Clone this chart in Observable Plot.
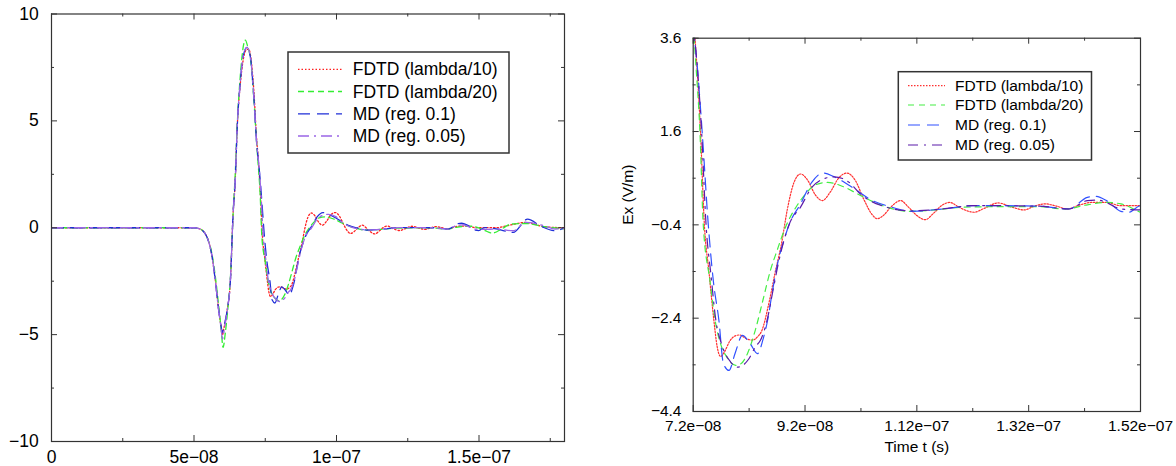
<!DOCTYPE html>
<html><head><meta charset="utf-8">
<script src="https://cdn.jsdelivr.net/npm/d3@7"></script>
<script src="https://cdn.jsdelivr.net/npm/@observablehq/plot@0.6"></script>
<style>
html,body{margin:0;padding:0;background:#fff;}
#wrap{position:relative;width:1176px;height:466px;overflow:hidden;background:#fff;}
#left{position:absolute;left:0;top:0;}
#right{position:absolute;left:590px;top:0;}
</style></head><body><div id="wrap"><div id="left"></div><div id="right"></div></div>
<script>
// ---- data (time in units of 1e-8 s, field in V/m) ----
const seriesNames = ["FDTD (lambda/10)", "FDTD (lambda/20)", "MD (reg. 0.1)", "MD (reg. 0.05)"];

const fdtd10T = [0,5.0,5.2,5.35,5.46, 5.64,5.75,5.87,5.95,6.0, 6.05,6.16,6.28,6.37,6.45, 6.51,6.63,6.72,6.82,6.92, 7.0,7.1,7.2,7.25,7.33, 7.40,7.48,7.57,7.63,7.69, 7.76,7.85,7.95,8.03,8.15, 8.26,8.35,8.43,8.55,8.66, 8.78,8.88,9.0,9.12,9.25, 9.38,9.51,9.65,9.8,9.95, 10.1,10.25,10.4,10.49,10.6, 10.75,10.91,11.05,11.2,11.35, 11.5,11.65,11.79,11.95,12.1, 12.22,12.4,12.65,12.9,13.12, 13.3,13.49,13.7,13.89,14.1, 14.32,14.59,14.85,15.2,15.6, 16.0,16.64,17.29,18.0];
const fdtd10V = [0,0,-0.05,-0.2,-0.45, -1.39,-2.48,-3.88,-4.6,-5.0, -4.7,-3.9,-2.4,0.6,2.3, 4.5,6.8,7.8,8.3,8.36, 7.9,6.4,4.1,3.3,1.6, -0.4,-1.38,-2.45,-3.02,-3.22, -3.12,-2.9,-2.78,-2.76,-2.84, -2.87,-2.8,-2.66,-2.1,-1.45, -0.8,-0.09,0.5,0.69,0.55, 0.25,0.12,0.3,0.6,0.71, 0.55,0.15,-0.18,-0.27,-0.2, 0.0,0.12,-0.02,-0.2,-0.29, -0.15,0.02,0.08,-0.02,-0.1, -0.13,-0.05,0.07,-0.02,-0.08, 0.0,0.05,0.0,-0.06,0.02, 0.08,0.08,0.01,0.01,0.0, 0.1,0.25,0.05,0.0];

const fdtd20T = [0,5.0,5.2,5.35,5.46, 5.64,5.75,5.87,5.95,6.02, 6.1,6.2,6.3,6.37,6.45, 6.51,6.63,6.72,6.8,6.88, 7.0,7.1,7.2,7.25,7.32, 7.38,7.5,7.6,7.69,7.81, 7.96,8.05,8.17,8.31,8.45, 8.58,8.7,8.85,9.06,9.2, 9.39,9.6,9.92,10.19,10.59, 11.05,11.52,12.05,12.72,13.39, 13.85,14.25,14.59,14.85,15.2, 15.47,15.8,16.12,16.64,17.29, 18.0];
const fdtd20V = [0,0,-0.05,-0.2,-0.45, -1.3,-2.3,-3.7,-4.7,-5.6, -4.9,-3.6,-1.8,0.6,2.6, 4.6,7.2,8.4,8.78,8.5, 7.7,6.0,3.9,3.0,1.6, -0.4,-1.6,-2.5,-2.95,-3.25, -3.41,-3.38,-3.16,-2.66,-2.0, -1.38,-0.95,-0.45,0.02,0.25, 0.46,0.51,0.40,0.23,0.01, -0.11,-0.08,-0.02,-0.01,-0.01, -0.06,0.03,0.08,0.05,-0.13, -0.25,-0.05,0.17,0.2,0.05, -0.05];

const md01T = [0,5.0,5.2,5.35,5.46, 5.64,5.75,5.87,5.95,5.99, 6.05,6.16,6.28,6.37,6.45, 6.51,6.63,6.72,6.86,6.98, 7.1,7.2,7.28,7.36,7.47, 7.56,7.66,7.74,7.84,7.95, 8.08,8.22,8.35,8.45,8.53, 8.62,8.72,8.82,8.92,9.12, 9.32,9.52,9.72,10.05,10.39, 10.72,11.12,11.65,12.19,12.72, 13.39,13.92,14.25,14.39,14.59, 14.85,14.99,15.2,15.6,16.2, 16.7,17.2,17.67,18.0];
const md01V = [0,0,-0.05,-0.2,-0.45, -1.4,-2.5,-3.9,-4.6,-4.9, -4.6,-3.9,-2.4,0.6,2.3, 4.5,6.9,8.0,8.44,7.97, 6.1,3.95,2.9,1.6,-0.4, -1.6,-2.45,-3.37,-3.52,-3.15, -2.77,-2.95,-3.16,-2.85,-2.45, -1.8,-1.17,-0.74,-0.38,0.05, 0.51,0.71,0.63,0.40,0.13, -0.01,-0.11,-0.06,0.01,0.01, 0.0,-0.06,0.19,0.21,0.12, -0.11,-0.13,0.01,-0.05,-0.22, 0.4,0.05,-0.14,0.0];

const md005T = [0,5.0,5.2,5.35,5.46, 5.64,5.75,5.87,5.95,6.0, 6.06,6.16,6.28,6.37,6.45, 6.51,6.63,6.72,6.86,6.98, 7.1,7.2,7.28,7.35,7.43, 7.52,7.6,7.72,7.87,7.99, 8.1,8.19,8.32,8.4,8.52, 8.62,8.72,8.92,9.12,9.32, 9.52,9.72,9.99,10.19,10.55, 11.1,11.65,12.2,12.72,13.39, 13.92,14.25,14.45,14.59,14.85, 15.2,15.6,16.2,16.64,17.29, 17.67,18.0];
const md005V = [0,0,-0.05,-0.2,-0.45, -1.4,-2.5,-3.9,-4.7,-5.2, -4.8,-3.9,-2.4,0.6,2.3, 4.5,6.9,8.0,8.44,7.97, 6.1,3.95,2.9,1.6,-0.4, -1.5,-2.4,-3.0,-3.34,-3.45, -3.4,-3.28,-3.0,-2.88,-2.45, -1.85,-1.24,-0.38,-0.02,0.4, 0.58,0.63,0.51,0.26,0.02, -0.1,-0.06,0.01,0.01,0.0, -0.06,0.12,0.13,0.08,-0.06, -0.08,-0.06,-0.14,0.25,0.09, -0.06,-0.03];

// ticks
const leftXMajor = [0, 5, 10, 15];
const leftXLabels = ["0", "5e\u221208", "1e\u221207", "1.5e\u221207"];
const leftXMinor = [2.5, 7.5, 12.5, 17.5];
const leftYMajor = [-10, -5, 0, 5, 10];
const leftYLabels = ["\u221210", "\u22125", "0", "5", "10"];
const leftYMinor = [-7.5, -2.5, 2.5, 7.5];

const rightXMajor = [7.2, 9.2, 11.2, 13.2, 15.2];
const rightXLabels = ["7.2e\u221208", "9.2e\u221208", "1.12e\u221207", "1.32e\u221207", "1.52e\u221207"];
const rightXMinor = [8.2, 10.2, 12.2, 14.2];
const rightYMajor = [-4.4, -2.4, -0.4, 1.6, 3.6];
const rightYLabels = ["\u22124.4", "\u22122.4", "\u22120.4", "1.6", "3.6"];
const rightYMinor = [-3.4, -1.4, 0.6, 2.6];

const xTitle = "Time t (s)";
const yTitle = "Ex (V/m)";

// ---- build table ----
const seriesT = [fdtd10T, fdtd20T, md01T, md005T];
const seriesV = [fdtd10V, fdtd20V, md01V, md005V];
const rows = [];
seriesT.forEach((T, k) => T.forEach((t, i) => rows.push({k, name: seriesNames[k], t, v: seriesV[k][i]})));

const FONT = "'Liberation Sans', Arial, Helvetica, sans-serif";

function panel(o) {
  const innerW = o.width - o.ml - o.mr, innerH = o.height - o.mt - o.mb;
  const marks = [];
  o.styles.forEach((s, k) => {
    marks.push(Plot.line(rows.filter(r => r.k === k), {
      x: "t", y: "v", stroke: s.color, strokeWidth: s.w, strokeDasharray: s.dash,
      curve: "monotone-x", clip: true
    }));
  });
  const tc = "#333";
  const M = 6, m = 3;
  marks.push(Plot.tickX(o.xMajor, {x: d => d, insetTop: innerH - M, stroke: tc}));
  marks.push(Plot.tickX(o.xMajor, {x: d => d, insetBottom: innerH - M, stroke: tc}));
  marks.push(Plot.tickX(o.xMinor, {x: d => d, insetTop: innerH - m, stroke: tc}));
  marks.push(Plot.tickX(o.xMinor, {x: d => d, insetBottom: innerH - m, stroke: tc}));
  marks.push(Plot.tickY(o.yMajor, {y: d => d, insetRight: innerW - M, stroke: tc}));
  marks.push(Plot.tickY(o.yMajor, {y: d => d, insetLeft: innerW - M, stroke: tc}));
  marks.push(Plot.tickY(o.yMinor, {y: d => d, insetRight: innerW - m, stroke: tc}));
  marks.push(Plot.tickY(o.yMinor, {y: d => d, insetLeft: innerW - m, stroke: tc}));
  marks.push(Plot.frame({stroke: tc, strokeWidth: 1.2}));
  marks.push(Plot.axisX({ticks: o.xMajor, tickSize: 0, tickPadding: o.xPad, label: null,
    tickFormat: d => o.xLabels[o.xMajor.indexOf(d)], fontSize: o.fs, fill: "black"}));
  marks.push(Plot.axisY({ticks: o.yMajor, tickSize: 0, tickPadding: o.yPad, label: null,
    tickFormat: d => o.yLabels[o.yMajor.indexOf(d)], fontSize: o.fs, fill: "black"}));
  if (o.xTitle) {
    marks.push(Plot.text([o.xTitle], {frameAnchor: "bottom", text: d => d, dy: o.xTitleDy, fontSize: o.fs, fill: "black", lineAnchor: "middle"}));
  }
  if (o.yTitle) {
    marks.push(Plot.text([o.yTitle], {frameAnchor: "left", text: d => d, dx: o.yTitleDx, rotate: -90, fontSize: o.fs, fill: "black", lineAnchor: "middle"}));
  }
  const svg = Plot.plot({
    width: o.width, height: o.height,
    marginLeft: o.ml, marginRight: o.mr, marginTop: o.mt, marginBottom: o.mb,
    x: {domain: o.xDomain, label: null},
    y: {domain: o.yDomain, label: null},
    style: {fontFamily: FONT, fontSize: o.fs + "px", color: "black", background: "white", overflow: "visible"},
    marks
  });
  // legend
  const L = o.legend;
  const g = d3.select(svg).append("g").attr("font-family", FONT).attr("text-anchor", "start");
  g.append("rect").attr("x", L.x0).attr("y", L.y0).attr("width", L.x1 - L.x0).attr("height", L.y1 - L.y0)
    .attr("fill", "white").attr("stroke", "#333").attr("stroke-width", 1.5);
  seriesNames.forEach((name, i) => {
    const s = o.styles[i];
    g.append("line").attr("x1", L.sx0).attr("x2", L.sx1).attr("y1", L.rows[i]).attr("y2", L.rows[i])
      .attr("stroke", s.color).attr("stroke-width", s.w).attr("stroke-dasharray", s.dash);
    g.append("text").attr("x", L.tx).attr("y", L.rows[i]).attr("dy", "0.35em")
      .attr("text-anchor", "start").attr("font-size", L.fs).attr("fill", "black").text(name);
  });
  return svg;
}

const leftStyles = [
  {color: "#ff2020", w: 1.3, dash: "1.5,2"},
  {color: "#33ee33", w: 1.3, dash: "6,4"},
  {color: "#1f2fd8", w: 1.3, dash: "12,7"},
  {color: "#9a66e6", w: 1.3, dash: "11,5,2,5"}
];
const rightStyles = [
  {color: "#ff3030", w: 1.2, dash: "1.5,1.5"},
  {color: "#44ee44", w: 1.2, dash: "6,5"},
  {color: "#3050ff", w: 1.2, dash: "12,7"},
  {color: "#5a1aaa", w: 1.2, dash: "10,6,2,6"}
];

document.getElementById("left").appendChild(panel({
  width: 580, height: 466, ml: 51, mr: 16, mt: 13.5, mb: 25,
  xDomain: [0, 18], yDomain: [-10, 10],
  xMajor: leftXMajor, xLabels: leftXLabels, xMinor: leftXMinor,
  yMajor: leftYMajor, yLabels: leftYLabels, yMinor: leftYMinor,
  fs: 17.5, xPad: 8.6, yPad: 12.7,
  styles: leftStyles,
  legend: {x0: 288, y0: 52, x1: 509, y1: 153, rows: [69.3, 91.5, 113.8, 136], sx0: 298, sx1: 342, tx: 352.7, fs: 17.5}
}));

document.getElementById("right").appendChild(panel({
  width: 586, height: 466, ml: 102.7, mr: 36, mt: 37.7, mb: 55,
  xDomain: [7.2, 15.2], yDomain: [-4.4, 3.6],
  xMajor: rightXMajor, xLabels: rightXLabels, xMinor: rightXMinor,
  yMajor: rightYMajor, yLabels: rightYLabels, yMinor: rightYMinor,
  fs: 15.5, xPad: 8.6, yPad: 11.7,
  styles: rightStyles,
  xTitle: xTitle, xTitleDy: 36, yTitle: yTitle, yTitleDx: -64.7,
  legend: {x0: 308.3, y0: 71.7, x1: 501.5, y1: 160, rows: [85.7, 105, 125, 145], sx0: 318, sx1: 355, tx: 365, fs: 15.5}
}));
</script>
</body></html>
